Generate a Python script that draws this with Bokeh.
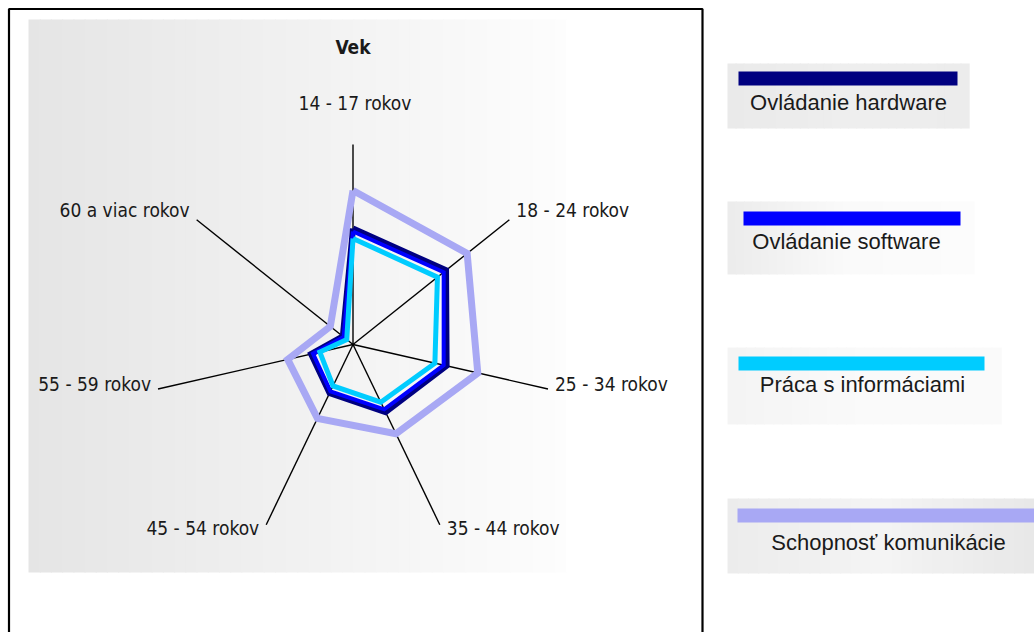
import numpy as np
from bokeh.plotting import figure
from bokeh.models import Range1d, ColumnDataSource
from bokeh.core.properties import value
from bokeh.embed import file_html
from bokeh.resources import INLINE

# ---------------- data ----------------
title = "Vek"
categories = ["14 - 17 rokov", "18 - 24 rokov", "25 - 34 rokov", "35 - 44 rokov",
              "45 - 54 rokov", "55 - 59 rokov", "60 a viac rokov"]
series_names = ["Ovládanie hardware", "Ovládanie software",
                "Práca s informáciami", "Schopnosť komunikácie"]
hardware = [58, 59.5, 48, 37.5, 27, 21.5, 6.5]
software = [56.5, 58, 46.5, 36, 26, 20.5, 6]
informacie = [53, 54, 42, 32, 23, 17, 4]
komunikacia = [77, 73, 64, 49.5, 41, 33.5, 14.5]
axis_max = 100

# ---------------- layout helpers ----------------
W, H = 1034, 632
CX, CY = 352.5, 344.0   # radar centre, page pixels
S = 2.0                 # pixels per value unit
NARROW = value("DejaVu Sans Condensed")


def px(x):
    return (x - CX) / S


def py(y):
    return (CY - y) / S


p = figure(width=W, height=H, output_backend="svg", toolbar_location=None,
           x_range=Range1d(px(0), px(W)), y_range=Range1d(py(H), py(0)),
           min_border=0, outline_line_color=None, background_fill_color="white",
           border_fill_color="white")
p.axis.visible = False
p.grid.visible = False

# ---------------- background panel (gradient) ----------------
n = 60
x0, x1 = 28, 700
edges = np.linspace(x0, x1, n + 1)
cols = []
for i in range(n):
    t = min(1.0, (edges[i] - x0) / (560 - x0))
    g = int(round(229 + (253 - 229) * t))
    if edges[i] > 560:
        g = 255
    cols.append("#%02x%02x%02x" % (g, g, g))
p.quad(left=[px(e) for e in edges[:-1]], right=[px(e) + 0.6 for e in edges[1:]],
       top=py(19), bottom=py(572), fill_color=cols, line_color=None)

# border of the chart area
p.line([px(8.5), px(8.5), px(702), px(702)], [py(660), py(8.5), py(8.5), py(660)],
       line_color="black", line_width=2.2)

# ---------------- radar axes ----------------
N = len(categories)
ang = np.deg2rad(90 - np.arange(N) * 360.0 / N)
ex = axis_max * np.cos(ang)
ey = axis_max * np.sin(ang)
p.segment(x0=[0] * N, y0=[0] * N, x1=list(ex), y1=list(ey),
          line_color="black", line_width=1.4)

# axis labels
lx, ly, la = [], [], []
for i in range(N):
    c, s = np.cos(ang[i]), np.sin(ang[i])
    if abs(c) < 0.2:
        lx.append(ex[i] + 2 / S); ly.append(ey[i] + 42 / S); la.append("center")
    else:
        dx = 7 / S if c > 0 else -7 / S
        if s > 0.5:
            dy = -10 / S
        elif s > -0.5:
            dy = -5 / S
        else:
            dy = 3 / S
        lx.append(ex[i] + dx); ly.append(ey[i] - dy); la.append("left" if c > 0 else "right")
lab_src = ColumnDataSource(dict(x=lx, y=ly, t=categories, a=la))
p.text(x="x", y="y", text="t", text_align="a", source=lab_src, text_baseline="middle",
       text_font=NARROW, text_font_size="19px", text_color="#1a1a1a")

p.text(x=[0], y=[py(46)], text=[title], text_align="center", text_baseline="middle",
       text_font=NARROW, text_font_style="bold", text_font_size="19px", text_color="#1a1a1a")

# ---------------- series ----------------
colors = ["#000080", "#0000ff", "#00ccff", "#a8a8f4"]
widths = [6, 4, 5, 7]
data = [hardware, software, informacie, komunikacia]
order = [3, 0, 1, 2]
for k in order:
    v = np.array(data[k] + [data[k][0]], dtype=float)
    a = np.append(ang, ang[0])
    p.line(list(v * np.cos(a)), list(v * np.sin(a)), line_color=colors[k],
           line_width=widths[k], line_join="miter")

# ---------------- legend ----------------
boxes = [(727, 63, 968, 128), (727, 201, 973, 274), (727, 347, 1000, 424), (727, 498, 1034, 573)]
bars = [(738, 71, 957, 85), (743, 211, 960, 225), (738, 356, 984, 370), (737, 508, 1034, 522)]
texts = [(848, 102), (846, 241), (862, 384), (888, 542)]
grads = [(234, 238, 236), (236, 250, 252), (244, 250, 250), (236, 244, 232)]
for k in range(4):
    bl, bt, br, bb = boxes[k]
    m = 30
    e = np.linspace(bl, br, m + 1)
    gl, gm, gr = grads[k]
    cc = []
    for i in range(m):
        t = i / (m - 1)
        g = gl + (gm - gl) * (t / 0.5) if t < 0.5 else gm + (gr - gm) * ((t - 0.5) / 0.5)
        g = int(round(g))
        cc.append("#%02x%02x%02x" % (g, g, g))
    p.quad(left=[px(z) for z in e[:-1]], right=[px(z) + 0.6 for z in e[1:]],
           top=py(bt), bottom=py(bb), fill_color=cc, line_color=None)
    l, t_, r, b = bars[k]
    p.quad(left=[px(l)], right=[px(r)], top=[py(t_)], bottom=[py(b)],
           fill_color=colors[k], line_color=None)
    p.text(x=[px(texts[k][0])], y=[py(texts[k][1])], text=[series_names[k]],
           text_align="center", text_baseline="middle",
           text_font=value("Liberation Sans"),
           text_font_size="22px", text_color="#1a1a1a")

open("out.html", "w").write(file_html(p, INLINE))
